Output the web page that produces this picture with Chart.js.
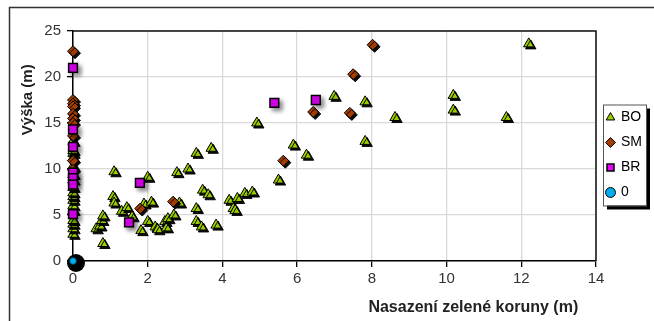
<!DOCTYPE html>
<html>
<head>
<meta charset="utf-8">
<script src="https://cdn.jsdelivr.net/npm/chart.js@4.4.1/dist/chart.umd.min.js"></script>
<style>
  html, body { margin: 0; padding: 0; background: #fff; }
  #wrap { position: relative; width: 654px; height: 321px; }
</style>
</head>
<body>
<div id="wrap"><canvas id="myChart" width="654" height="321"></canvas></div>
<script>
// series names as in legend
var seriesNames = ['BO', 'SM', 'BR', '0'];

// BO (triangles)
var boX = [0, 0, 0, 0, 0, 0, 0, 0, 0, 0, 0, 0, 0, 0, 0, 0, 0,
  0.62, 0.72, 0.77, 0.8, 0.8, 1.1, 1.07, 1.1, 1.3, 1.44, 1.58, 1.9, 2.1, 2.0, 2.0, 1.82, 2.2, 2.27,
  2.46, 2.5, 2.54, 2.7, 2.85, 2.78, 3.08, 3.3, 3.7, 3.47, 3.62, 3.3, 3.3, 3.44, 3.83, 4.18, 4.29,
  4.4, 4.34, 4.6, 4.8, 4.92, 5.5, 5.9, 6.25, 6.99, 7.82, 7.82, 8.62, 10.18, 10.18, 11.6, 12.2];
var boY = [2.9, 3.5, 4.0, 4.4, 5.5, 6.0, 6.6, 7.0, 7.4, 8.0, 8.8, 9.4, 10.3, 11.2, 11.7, 12.0, 13.0,
  3.5, 3.8, 4.4, 4.9, 1.9, 9.7, 7.0, 6.3, 5.4, 5.8, 4.8, 6.2, 6.4, 9.1, 4.3, 3.3, 3.7, 3.4,
  4.3, 3.6, 4.6, 5.0, 6.3, 9.6, 10.0, 11.7, 12.25, 7.7, 7.2, 5.7, 4.3, 3.7, 3.9, 6.6, 5.7,
  6.8, 5.5, 7.35, 7.5, 15.0, 8.8, 12.6, 11.5, 17.9, 17.3, 13.0, 15.6, 18.0, 16.4, 15.6, 23.6];

// SM (diamonds)
var smX = [0, 0, 0, 0, 0, 0, 0, 0, 0, 0, 1.8, 2.68, 5.63, 6.43, 7.41, 7.5, 8.02];
var smY = [22.8, 17.5, 17.1, 16.8, 16.0, 15.5, 15.0, 13.6, 10.9, 9.9, 5.7, 6.45, 10.9, 16.2, 16.1, 20.3, 23.5];

// BR (squares)
var brX = [0, 0, 0, 0, 0, 0, 0, 1.79, 1.5, 5.39, 6.5];
var brY = [21.0, 14.3, 12.4, 9.6, 9.0, 8.3, 5.1, 8.5, 4.2, 17.2, 17.5];

// 0 (circle)
var zeroX = [0];
var zeroY = [0];

var xTicks = [0, 2, 4, 6, 8, 10, 12, 14];
var yTicks = [0, 5, 10, 15, 20, 25];

function pairs(xs, ys) {
  return xs.map(function (x, i) { return { x: x, y: ys[i] }; });
}

// marker for the "0" point: blue dot with heavy black shadow
var zeroMark = document.createElement('canvas');
zeroMark.width = 30; zeroMark.height = 30;
(function () {
  var c = zeroMark.getContext('2d');
  c.fillStyle = '#000';
  c.beginPath(); c.arc(18, 17, 9, 0, Math.PI * 2); c.fill();
  c.fillStyle = '#00aeef';
  c.strokeStyle = '#003040';
  c.lineWidth = 1;
  c.beginPath(); c.arc(15, 15, 3.5, 0, Math.PI * 2); c.fill(); c.stroke();
})();

var shadows = {
  0: { color: 'rgba(0,0,0,0.95)', blur: 0, dx: 2, dy: 2 },
  1: { color: 'rgba(0,0,0,0.95)', blur: 0, dx: 2, dy: 2 },
  2: { color: 'rgba(0,0,0,0.45)', blur: 4, dx: 3, dy: 3 }
};

var decor = {
  id: 'decor',
  afterLayout: function (chart) {
    // lift the legend to where it sits in the original
    chart.legend.top -= 21;
    chart.legend.bottom -= 21;
  },
  beforeDraw: function (chart) {
    var ctx = chart.ctx;
    ctx.save();
    // outer frame
    ctx.strokeStyle = '#333';
    ctx.lineWidth = 1.5;
    ctx.beginPath();
    ctx.moveTo(9.5, 321); ctx.lineTo(9.5, 7.5); ctx.lineTo(654, 7.5);
    ctx.stroke();
    // legend box
    var boxes = chart.legend.legendHitBoxes;
    if (boxes && boxes.length) {
      var l = 603, t = boxes[0].top - 6;
      var b = boxes[boxes.length - 1].top + boxes[boxes.length - 1].height + 6;
      var r = 646;
      ctx.fillStyle = '#000';
      ctx.fillRect(l + 4, t + 4, r - l, b - t);
      ctx.fillStyle = '#fff';
      ctx.fillRect(l, t, r - l, b - t);
      ctx.strokeStyle = '#555';
      ctx.lineWidth = 1;
      ctx.strokeRect(l + 0.5, t + 0.5, r - l, b - t);
    }
    ctx.restore();
  },
  beforeDatasetsDraw: function (chart) {
    var a = chart.chartArea, ctx = chart.ctx;
    ctx.save();
    ctx.strokeStyle = '#111';
    ctx.lineWidth = 1.5;
    ctx.beginPath();
    ctx.moveTo(a.left, a.top); ctx.lineTo(a.right, a.top); ctx.lineTo(a.right, a.bottom);
    ctx.stroke();
    ctx.restore();
  },
  beforeDatasetDraw: function (chart, args) {
    var s = shadows[args.index];
    var ctx = chart.ctx;
    ctx.save();
    if (s) {
      ctx.shadowColor = s.color;
      ctx.shadowBlur = s.blur;
      ctx.shadowOffsetX = s.dx;
      ctx.shadowOffsetY = s.dy;
    }
  },
  afterDatasetDraw: function (chart) {
    chart.ctx.restore();
  }
};

var ctx = document.getElementById('myChart').getContext('2d');

var chart = new Chart(ctx, {
  type: 'scatter',
  data: {
    datasets: [{
      label: seriesNames[0],
      data: pairs(boX, boY),
      pointStyle: 'triangle',
      pointRadius: 6,
      backgroundColor: '#9acd00',
      borderColor: '#000',
      borderWidth: 1,
      clip: false,
      order: 3
    }, {
      label: seriesNames[1],
      data: pairs(smX, smY),
      pointStyle: 'rectRot',
      pointRadius: 5.5,
      backgroundColor: '#a33c00',
      borderColor: '#000',
      borderWidth: 1,
      clip: false,
      order: 2
    }, {
      label: seriesNames[2],
      data: pairs(brX, brY),
      pointStyle: 'rect',
      pointRadius: 6.2,
      backgroundColor: '#e800ff',
      borderColor: '#000',
      borderWidth: 1.5,
      clip: false,
      order: 1
    }, {
      label: seriesNames[3],
      data: pairs(zeroX, zeroY),
      pointStyle: zeroMark,
      pointRadius: 6,
      backgroundColor: '#00aeef',
      borderColor: '#000',
      borderWidth: 1,
      clip: false,
      order: 0
    }]
  },
  options: {
    responsive: false,
    animation: false,
    layout: { padding: { top: 31, left: 9, right: 2, bottom: 0 } },
    plugins: {
      tooltip: { enabled: false },
      legend: {
        position: 'right',
        labels: {
          usePointStyle: true,
          boxWidth: 7,
          boxHeight: 7,
          padding: 11,
          color: '#000',
          font: { family: 'Liberation Sans', size: 14 },
          sort: function (a, b) { return a.datasetIndex - b.datasetIndex; },
          generateLabels: function (chart) {
            var items = Chart.defaults.plugins.legend.labels.generateLabels(chart);
            items.forEach(function (it) {
              if (it.datasetIndex === 3) {
                it.pointStyle = 'circle';
                it.fillStyle = '#00aeef';
                it.strokeStyle = '#000';
                it.lineWidth = 1;
              }
            });
            return items;
          }
        }
      }
    },
    scales: {
      x: {
        type: 'linear',
        min: 0, max: 14,
        afterFit: function (s) { s.height = 60; },
        afterBuildTicks: function (s) { s.ticks = xTicks.map(function (v) { return { value: v }; }); },
        ticks: { color: '#333', font: { family: 'Liberation Sans', size: 15 }, padding: 3 },
        grid: { color: '#d9d9d9', lineWidth: 1.3, tickColor: '#000', tickLength: 6 },
        border: { color: '#000', width: 1.5 },
        title: {
          display: true,
          text: 'Nasazení zelené koruny (m)    ',
          align: 'end',
          color: '#222',
          font: { family: 'Liberation Sans', size: 16, weight: 'bold' },
          padding: { top: 2 }
        }
      },
      y: {
        type: 'linear',
        min: 0, max: 25,
        afterFit: function (s) { s.width = 64; },
        afterBuildTicks: function (s) { s.ticks = yTicks.map(function (v) { return { value: v }; }); },
        ticks: { color: '#333', font: { family: 'Liberation Sans', size: 15 }, padding: 6 },
        grid: { color: '#d9d9d9', lineWidth: 1.3, tickColor: '#000', tickLength: 6 },
        border: { color: '#000', width: 1.5 },
        title: {
          display: true,
          text: 'Výška (m)        ',
          align: 'end',
          color: '#222',
          font: { family: 'Liberation Sans', size: 15, weight: 'bold' },
          padding: { top: 10, bottom: 0 }
        }
      }
    }
  },
  plugins: [decor]
});
</script>
</body>
</html>
